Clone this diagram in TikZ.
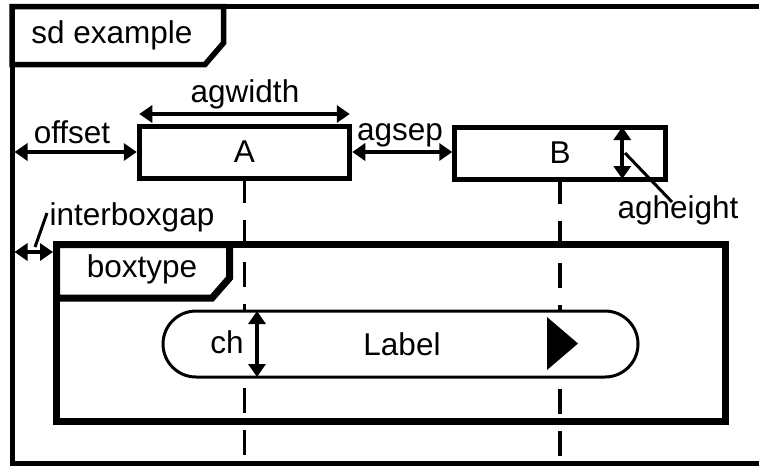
\documentclass[tikz,border=0pt]{standalone}
\usepackage{fontspec}
\setmainfont{Liberation Sans}
\usetikzlibrary{arrows.meta,calc}
\begin{document}
\begin{tikzpicture}[x=1pt,y=-1pt,
  lbl/.style={inner sep=0pt, anchor=base, font=\fontsize{31.5}{37}\selectfont},
  dimarrow/.style={line width=4pt, {Triangle[length=13pt,width=17pt]}-{Triangle[length=13pt,width=17pt]}},
  leader/.style={line width=3pt},
  life/.style={line width=3.5pt, dash pattern=on 25pt off 17pt},
  agbox/.style={draw, line width=5pt, fill=white, minimum width=210.5pt, minimum height=52pt,
    inner sep=0pt, outer sep=0pt, font=\fontsize{31.5}{37}\selectfont},
  msgbox/.style={draw, line width=3pt, fill=white, rectangle, rounded corners=33pt,
    minimum width=475pt, minimum height=66pt, inner sep=0pt, outer sep=0pt,
    font=\fontsize{31.5}{37}\selectfont},
  tabshape/.style={draw, fill=white, line join=miter},
  line join=miter]
\useasboundingbox (0,0) rectangle (759,466);
\clip (0,0) rectangle (759,466);

% outer frame
\draw[line width=5pt] (12,6.5) rectangle (790,463.5);
% combined fragment frame
\draw[line width=7pt] (56.5,244.5) rectangle (725,421);

% participants
\node[agbox] (A) at (244.5,152) {A};
\node[agbox] (B) at (560,153) {B};
\coordinate (Aend) at (244.5,470);
\coordinate (Bend) at (560,470);
\draw[life] (A.south) -- (Aend);
\draw[life] (B.south) -- (Bend);

% message
\node[msgbox] (msg) at (400.5,344) {\hspace*{3pt}Label};
\fill (547,317) -- (578,343.5) -- (547,370) -- cycle;

% tabs
\draw[tabshape, line width=5.5pt] (12,6.5) -- (223.5,6.5) -- (223.5,43) -- (205,64.5) -- (12,64.5) -- cycle;
\node[lbl] (sd) at (112,43) {sd example};
\draw[tabshape, line width=7pt] (56.5,244.5) -- (229.5,244.5) -- (229.5,278) -- (212,298) -- (56.5,298) -- cycle;
\node[lbl] (bt) at (142,277) {boxtype};

% dimension: agwidth
\coordinate (aw1) at ($(A.north west)+(0,-12)$);
\coordinate (aw2) at ($(A.north east)+(0,-12)$);
\draw[dimarrow] (aw1) -- (aw2);
\node[lbl] (agw) at (245,102) {agwidth};

% offset
\coordinate (fl) at (14.5,152);
\draw[dimarrow] (fl) -- ($(A.west)+(-2.5,0)$);
\node[lbl] (off) at (72,143) {offset};

% agsep
\draw[dimarrow] ($(A.east)+(2.5,0)$) -- ($(A.east -| B.west)+(-2.5,0)$);
\node[lbl] (ags) at (400,140) {agsep};

% agheight
\coordinate (ah1) at ($(B.north east)+(-43,0)$);
\coordinate (ah2) at ($(B.south east)+(-43,0)$);
\draw[dimarrow] (ah1) -- (ah2);
\coordinate (ahl1) at (625,153);
\coordinate (ahl2) at (672,202);
\draw[leader] (ahl1) -- (ahl2);
\node[lbl] (agh) at (678,218) {agheight};

% interboxgap
\coordinate (ig1) at (14.5,252);
\coordinate (ig2) at (53,252);
\draw[dimarrow] (ig1) -- (ig2);
\coordinate (igl1) at (35,247);
\coordinate (igl2) at (47,213);
\draw[leader] (igl1) -- (igl2);
\node[lbl] (ibg) at (132,225) {interboxgap};

% ch
\coordinate (ch1) at ($(msg.north west)+(94,0)$);
\coordinate (ch2) at ($(msg.south west)+(94,0)$);
\draw[dimarrow] (ch1) -- (ch2);
\node[lbl] (chl) at (227,353) {ch};
\end{tikzpicture}
\end{document}
